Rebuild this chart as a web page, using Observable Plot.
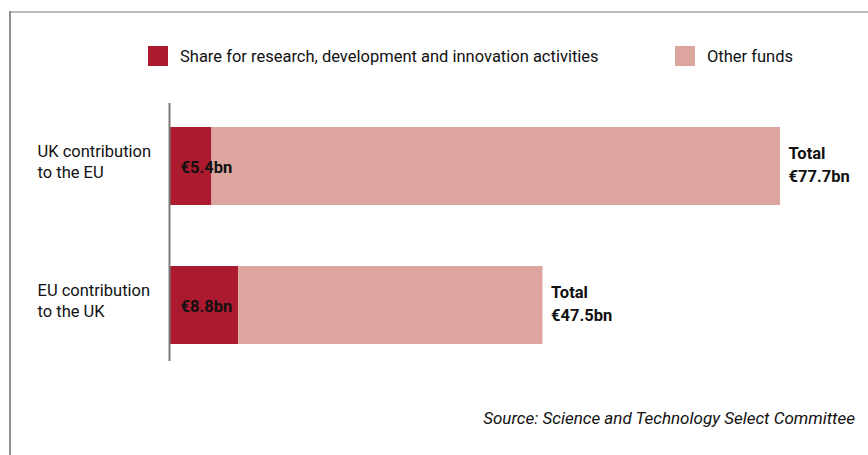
<!DOCTYPE html>
<html>
<head>
<meta charset="utf-8">
<script src="https://cdn.jsdelivr.net/npm/d3@7"></script>
<script src="https://cdn.jsdelivr.net/npm/@observablehq/plot@0.6"></script>
<style>
  html, body { margin: 0; padding: 0; background: #fff; }
  body { width: 868px; height: 455px; overflow: hidden; font-family: Roboto, "Liberation Sans", sans-serif; color: #111; }
  #wrap { position: relative; width: 868px; height: 455px; }
  #frameTop { position: absolute; left: 9px; top: 11px; width: 859px; height: 0; border-top: 2px solid #bdbdbd; }
  #frameLeft { position: absolute; left: 9px; top: 11px; width: 0; height: 444px; border-left: 2px solid #8f8f8f; }
  .legend { position: absolute; top: 46px; height: 20px; display: flex; align-items: center; font-size: 16.5px; }
  .swatch { width: 20px; height: 20px; margin-right: 12px; flex: none; }
  #chart { position: absolute; left: 0; top: 80px; }
  #caption { position: absolute; right: 13px; top: 408px; font-size: 17px; font-style: italic; }
</style>
</head>
<body>
<div id="wrap">
  <div id="frameTop"></div>
  <div id="frameLeft"></div>
  <div id="legend"></div>
  <div id="chart"></div>
  <div id="caption">Source: Science and Technology Select Committee</div>
</div>
<script>
// Data
const categories = ["UK contribution\nto the EU", "EU contribution\nto the UK"];
const seriesNames = ["Share for research, development and innovation activities", "Other funds"];
const researchShare = [5.4, 8.8];   // €bn
const totals = [77.7, 47.5];        // €bn
const colors = ["#ab1a2e", "#dca69f"];

// Legend
const legendX = [148, 675];
const legend = document.getElementById("legend");
seriesNames.forEach((name, i) => {
  const d = document.createElement("div");
  d.className = "legend";
  d.style.left = legendX[i] + "px";
  d.innerHTML = `<span class="swatch" style="background:${colors[i]}"></span><span>${name}</span>`;
  legend.appendChild(d);
});

// Build stacked table
const rows = [];
categories.forEach((c, i) => {
  rows.push({cat: c, series: seriesNames[0], value: researchShare[i]});
  rows.push({cat: c, series: seriesNames[1], value: +(totals[i] - researchShare[i]).toFixed(1)});
});
const totalRows = categories.map((c, i) => ({cat: c, total: totals[i]}));
const shareRows = categories.map((c, i) => ({cat: c, share: researchShare[i]}));

const chart = Plot.plot({
  width: 868,
  height: 300,
  marginLeft: 169,
  marginRight: 88,
  marginTop: 23,
  marginBottom: 19,
  style: {fontFamily: 'Roboto, "Liberation Sans", sans-serif', fontSize: "16px", color: "#111"},
  x: {domain: [0, 77.7], axis: null},
  y: {domain: categories, axis: null, paddingInner: 0.439, paddingOuter: 0.1475, align: 0.585},
  color: {domain: seriesNames, range: colors},
  marks: [
    Plot.barX(rows, Plot.stackX({x: "value", y: "cat", fill: "series", order: seriesNames})),
    Plot.ruleX([0], {stroke: "#7a7a7a", strokeWidth: 2}),
    Plot.text(categories, {x: 0, y: d => d, text: d => d, textAnchor: "start", dx: -132, dy: -6, lineHeight: 1.3, fontSize: 16.5, fill: "#111"}),
    Plot.text(shareRows, {x: 0, y: "cat", text: d => `€${d.share}bn`, textAnchor: "start", dx: 11, dy: 1, fontWeight: "bold", fontSize: 16.5, fill: "#111"}),
    Plot.text(totalRows, {x: "total", y: "cat", text: d => `Total\n€${d.total}bn`, textAnchor: "start", dx: 8, dy: -3, lineHeight: 1.4, fontWeight: "bold", fontSize: 16.5, fill: "#111"})
  ]
});
document.getElementById("chart").appendChild(chart);
</script>
</body>
</html>
